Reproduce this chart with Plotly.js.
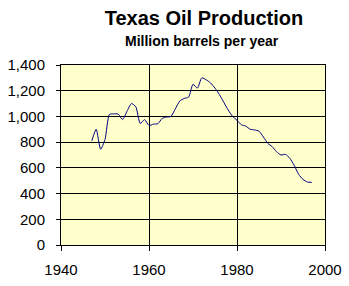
<!DOCTYPE html>
<html><head><meta charset="utf-8">
<script src="https://cdn.plot.ly/plotly-3.0.1.min.js"></script>
<style>html,body{margin:0;padding:0;background:#fff}#c{width:349px;height:286px}</style>
</head><body><div id="c"></div>
<script>
const years = [1947,1948,1949,1950,1951,1952,1953,1954,1955,1956,1957,1958,1959,1960,1961,1962,1963,1964,1965,1966,1967,1968,1969,1970,1971,1972,1973,1974,1975,1976,1977,1978,1979,1980,1981,1982,1983,1984,1985,1986,1987,1988,1989,1990,1991,1992,1993,1994,1995,1996,1997];
const production = [810,900,745,820,1015,1020,1018,975,1040,1100,1075,945,975,930,940,943,985,995,1000,1060,1120,1140,1150,1250,1220,1300,1285,1260,1220,1170,1110,1050,1000,970,935,925,900,895,885,840,790,765,725,700,705,675,620,550,510,490,487];
const titleText = "Texas Oil Production";
const subtitleText = "Million barrels per year";

const font = "Arial, 'Liberation Sans', sans-serif";
Plotly.newPlot('c', [{
  x: years, y: production, type: 'scatter', mode: 'lines',
  line: {color: '#000080', width: 1, shape: 'spline', smoothing: 0.6},
  hoverinfo: 'none'
}], {
  width: 349, height: 286,
  margin: {l: 61, r: 24, t: 65, b: 41, pad: 0},
  paper_bgcolor: '#ffffff', plot_bgcolor: '#ffffcc',
  showlegend: false,
  font: {family: font, color: '#000'},
  title: {text: '<b>' + titleText + '</b>', font: {family: font, size: 20, color: '#000'},
          x: 204/349, xanchor: 'center', xref: 'container', y: 1 - 18/286, yanchor: 'middle', yref: 'container'},
  annotations: [{text: '<b>' + subtitleText + '</b>', xref: 'paper', yref: 'paper',
    x: (202-61)/264, y: (245-41)/180, xanchor: 'center', yanchor: 'middle', showarrow: false,
    font: {family: font, size: 14, color: '#000'}}],
  xaxis: {range: [1940, 2000], tickvals: [1940,1960,1980,2000], ticktext: ['1940','1960','1980','2000'],
    showgrid: true, gridcolor: '#000', gridwidth: 1, showline: true, linecolor: '#000', linewidth: 1, mirror: true,
    ticks: 'outside', ticklen: 5, tickcolor: '#000', tickfont: {family: font, size: 15, color: '#000'},
    zeroline: false, fixedrange: true, ticklabelstandoff: 6},
  yaxis: {range: [0, 1400], tickvals: [0,200,400,600,800,1000,1200,1400], tickformat: ',d',
    showgrid: true, gridcolor: '#000', gridwidth: 1, showline: true, linecolor: '#000', linewidth: 1, mirror: true,
    ticks: 'outside', ticklen: 4, tickcolor: '#000', tickfont: {family: font, size: 15, color: '#000'},
    zeroline: false, fixedrange: true, ticklabelstandoff: 8}
}, {displayModeBar: false, staticPlot: true});
</script></body></html>
